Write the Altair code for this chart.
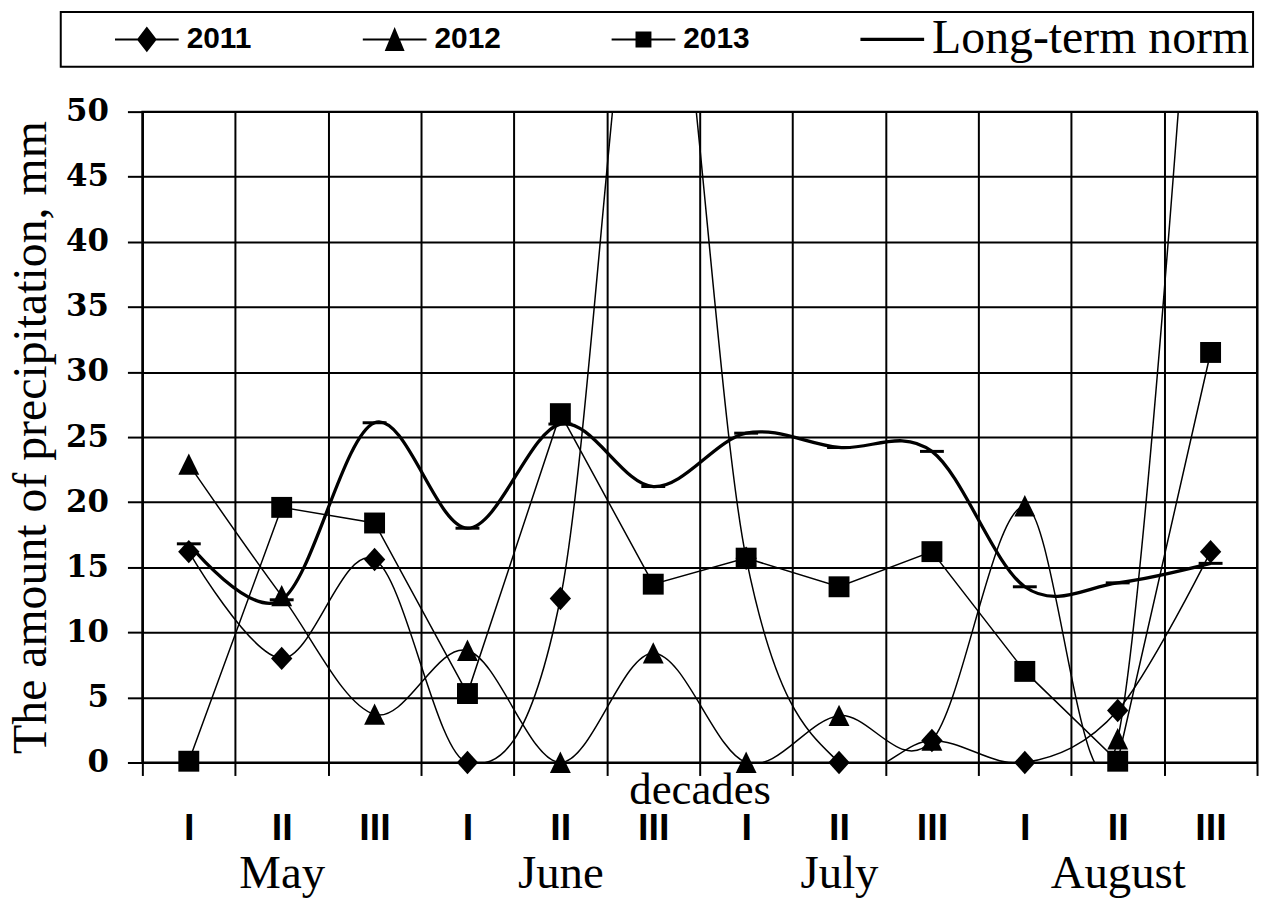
import altair as alt
import pandas as pd

# ---------------- data ----------------
decades = ["I", "II", "III", "I", "II", "III", "I", "II", "III", "I", "II", "III"]
months = ["May", "June", "July", "August"]
series_names = ["2011", "2012", "2013", "Long-term norm"]

p2011 = [16.2, 8.0, 15.6, 0.0, 12.6, 70.0, 15.7, 0.0, 1.7, 0.0, 4.0, 16.2]
p2012 = [22.9, 12.8, 3.7, 8.6, 0.0, 8.4, 0.0, 3.6, 1.7, 19.7, 1.8, 85.0]
p2013 = [0.1, 19.6, 18.4, 5.3, 26.8, 13.7, 15.7, 13.5, 16.2, 7.0, 0.1, 31.5]
norm = [16.8, 12.5, 26.1, 18.0, 26.0, 21.2, 25.3, 24.2, 23.9, 13.5, 13.8, 15.3]

y_ticks = [0, 5, 10, 15, 20, 25, 30, 35, 40, 45, 50]

rows = []
for name, vals in zip(series_names, [p2011, p2012, p2013, norm]):
    for i, v in enumerate(vals):
        rows.append({"series": name, "pos": i + 0.5, "value": v,
                     "decade": decades[i], "month": months[i // 3]})
df = pd.DataFrame(rows)

legend_df = pd.DataFrame({"series": series_names,
                          "pos": [None] * 4, "value": [None] * 4})

# ---------------- scales / axes ----------------
xscale = alt.Scale(domain=[0, len(decades)], nice=False, zero=False)
yscale = alt.Scale(domain=[0, 50], nice=False, zero=False)

yaxis = alt.Axis(values=y_ticks, grid=True, gridColor="black", gridWidth=2,
                 ticks=True, tickSize=15, tickColor="black", tickWidth=2,
                 domain=True, domainColor="black", domainWidth=2,
                 labelFont="DejaVu Serif", labelFontWeight="bold", labelFontSize=31,
                 labelColor="black", labelPadding=19,
                 title="The amount of precipitation, mm",
                 titleFont="Liberation Serif", titleFontSize=48, titleFontWeight="normal",
                 titleColor="black", titleBaseline="alphabetic", titleX=-97, titleY=327)

grid_axis = alt.Axis(orient="bottom", values=list(range(len(decades) + 1)), grid=True,
                     gridColor="black", gridWidth=2,
                     ticks=True, tickSize=13, tickColor="black", tickWidth=2,
                     domain=True, domainColor="black", domainWidth=2, labels=False,
                     title="decades", titleFont="Liberation Serif", titleFontSize=45,
                     titleFontWeight="normal", titleColor="black",
                     titleBaseline="alphabetic", titleY=41)

dec_expr = "[" + ",".join("'%s'" % d for d in decades) + "][floor(datum.value)]"
decade_axis = alt.Axis(orient="bottom", values=[i + 0.5 for i in range(len(decades))],
                       grid=False, ticks=False, domain=False, labelExpr=dec_expr,
                       labelFont="Liberation Sans", labelFontWeight="bold",
                       labelFontSize=38, labelColor="black", labelPadding=47,
                       labelOverlap=False, labelFlush=False, labelAngle=0, title=None)

mon_expr = "[" + ",".join("'%s'" % m for m in months) + "][floor(datum.value / 3)]"
month_axis = alt.Axis(orient="bottom", values=[3 * k + 1.5 for k in range(len(months))],
                      grid=False, ticks=False, domain=False, labelExpr=mon_expr,
                      labelFont="Liberation Serif", labelFontSize=47, labelColor="black",
                      labelBaseline="alphabetic", labelPadding=126,
                      labelOverlap=False, labelFlush=False, labelAngle=0, title=None)


def X(axis):
    return alt.X("pos:Q", scale=xscale, axis=axis)


Y = alt.Y("value:Q", scale=yscale, axis=yaxis)

# ---------------- marker shapes ----------------
diamond_path = "M0,-1.1L1,0L0,1.1L-1,0Z"
triangle_path = "M0,-1.05L1,1.0L-1,1.0Z"

# legend symbols: nominal 48px box (unit = 24px), drawn 64px wide;
# zero-area anchors at top/bottom keep every entry's bounds equal
anchors = " M0,-1L0,-1Z M0,1L0,1Z"
legend_paths = [
    "M-1,-0.046H1.667V0.046H-1Z M0.333,-0.54L0.75,0L0.333,0.54L-0.083,0Z" + anchors,
    "M-1,-0.046H1.667V0.046H-1Z M0.333,-0.52L0.75,0.48L-0.083,0.48Z" + anchors,
    "M-1,-0.046H1.667V0.046H-1Z M0,-0.333H0.667V0.333H0Z" + anchors,
    "M-1,-0.068H1.667V0.068H-1Z" + anchors,
]

is_norm = "datum.label == 'Long-term norm'"
legend = alt.Legend(
    title=" ", titleOrient="left", titlePadding=51, titleFontSize=20,
    orient="none", legendX=-82, legendY=-100,
    direction="horizontal", columns=4, columnPadding=111,
    symbolSize=2304, symbolStrokeWidth=0, symbolFillColor="black",
    labelOffset=24, labelLimit=600, labelColor="black",
    labelFont={"expr": is_norm + " ? 'Liberation Serif' : 'Liberation Sans'"},
    labelFontSize={"expr": is_norm + " ? 48 : 30"},
    labelFontWeight={"expr": is_norm + " ? 'normal' : 'bold'"},
    strokeColor="black", fillColor="white", padding=3.5,
)

base = alt.Chart(df)


def only(name):
    return base.transform_filter(alt.datum.series == name)


norm_line = only("Long-term norm").mark_line(
    interpolate="cardinal", color="black", strokeWidth=3.3, clip=True
).encode(x=X(grid_axis), y=Y)

norm_ticks = only("Long-term norm").mark_tick(
    orient="horizontal", size=24, thickness=3, color="black", opacity=1
).encode(x=X(None), y=Y)

line2011 = only("2011").mark_line(
    interpolate="cardinal", color="black", strokeWidth=1.5, clip=True
).encode(x=X(decade_axis), y=Y)

line2012 = only("2012").mark_line(
    interpolate="cardinal", color="black", strokeWidth=1.5, clip=True
).encode(x=X(month_axis), y=Y)

line2013 = only("2013").mark_line(
    color="black", strokeWidth=1.5, clip=True
).encode(x=X(None), y=Y)


def pts(name, shape, size):
    return only(name).transform_filter("datum.value <= 50").mark_point(
        shape=shape, size=size, filled=True, color="black", opacity=1
    ).encode(x=X(None), y=Y)


pts2011 = pts("2011", diamond_path, 460)
pts2012 = pts("2012", triangle_path, 441)
pts2013 = pts("2013", "square", 441)

legend_layer = alt.Chart(legend_df).mark_point(
    filled=True, color="black", opacity=1
).encode(
    x=X(None), y=Y,
    shape=alt.Shape("series:N", scale=alt.Scale(domain=series_names, range=legend_paths),
                    legend=legend),
)

chart = alt.layer(
    norm_line, line2011, line2012, line2013, norm_ticks,
    pts2011, pts2012, pts2013, legend_layer
).resolve_axis(x="independent").properties(
    width=1120, height=654,
    autosize=alt.AutoSizeParams(type="none"),
    padding={"left": 135, "top": 102, "right": 8, "bottom": 134},
    background="white",
).configure_view(stroke="black", strokeWidth=2).configure_legend(strokeWidth=2)

chart.save("out.html", embed_options={"renderer": "svg", "actions": False})
